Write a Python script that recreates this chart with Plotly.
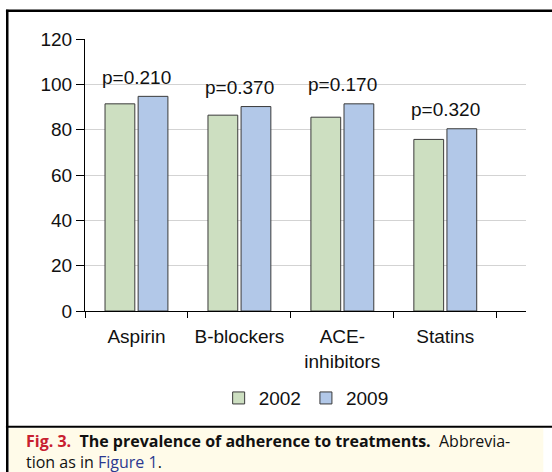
import plotly.graph_objects as go

# ── Data ──────────────────────────────────────────────────────────────────────
CATEGORIES = ["Aspirin", "B-blockers", "ACE-<br>inhibitors", "Statins"]
YEAR_2002 = [91.4, 86.4, 85.5, 75.7]
YEAR_2009 = [94.7, 90.2, 91.4, 80.4]
P_VALUES = ["p=0.210", "p=0.370", "p=0.170", "p=0.320"]

# ── Style ─────────────────────────────────────────────────────────────────────
GREEN = "#CDDFC1"
BLUE = "#B2C8E8"
OUTLINE = "#3A3A3A"
GRID = "#D3D3D3"
FONT = "Liberation Sans, Arial, sans-serif"
CAPTION_FONT = "Open Sans, sans-serif"

W, H = 552, 472
PLOT_L, PLOT_R = 85, 525.7   # plot area, pixels
PLOT_T, PLOT_B = 39.3, 311


def px(x):
    return (x - PLOT_L) / (PLOT_R - PLOT_L)


def py(y):
    return (PLOT_B - y) / (PLOT_B - PLOT_T)


fig = go.Figure()
fig.add_trace(go.Bar(x=CATEGORIES, y=YEAR_2002, name="2002",
                     marker=dict(color=GREEN, line=dict(color=OUTLINE, width=1))))
fig.add_trace(go.Bar(x=CATEGORIES, y=YEAR_2009, name="2009",
                     marker=dict(color=BLUE, line=dict(color=OUTLINE, width=1))))

# p-value labels sit a fixed distance above the taller bar of each group
for cat, a, b, p in zip(CATEGORIES, YEAR_2002, YEAR_2009, P_VALUES):
    fig.add_annotation(x=cat, y=max(a, b) + 8.4, text=p, showarrow=False,
                       xanchor="center", yanchor="middle",
                       font=dict(size=19, color="#111", family=FONT))

# ── Frame and caption ─────────────────────────────────────────────────────────
frame = dict(type="line", xref="paper", yref="paper", layer="above")
fig.add_shape(x0=px(543), x1=px(9), y0=py(428), y1=py(472), type="rect",
              xref="paper", yref="paper", fillcolor="#FFFBE9", line_width=0,
              layer="below")
fig.add_shape(**frame, x0=px(6), x1=px(552), y0=py(11), y1=py(11),
              line=dict(color="black", width=2.5))
fig.add_shape(**frame, x0=px(7.3), x1=px(7.3), y0=py(10), y1=py(472),
              line=dict(color="black", width=2.5))
fig.add_shape(**frame, x0=px(6), x1=px(552), y0=py(426.5), y1=py(426.5),
              line=dict(color="black", width=2))

line1 = ("<span style='color:#C8202F'><b>Fig. 3.</b></span>\u00a0 "
         "<b>The prevalence of adherence to treatments.</b>\u00a0 Abbrevia-")
line2 = "tion as in <span style='color:#2B3990'>Figure 1</span>."
fig.add_annotation(x=px(24.5), y=py(440.5), xref="paper", yref="paper",
                   text=line1, showarrow=False, xanchor="left", yanchor="middle",
                   font=dict(size=16, color="#111", family=CAPTION_FONT))
fig.add_annotation(x=px(24.5), y=py(462), xref="paper", yref="paper",
                   text=line2, showarrow=False, xanchor="left", yanchor="middle",
                   font=dict(size=16, color="#111", family=CAPTION_FONT))

fig.update_layout(
    width=W, height=H,
    margin=dict(l=PLOT_L, r=W - PLOT_R, t=PLOT_T, b=H - PLOT_B),
    paper_bgcolor="white", plot_bgcolor="white",
    font=dict(family=FONT, size=19, color="#111"),
    barmode="group", bargap=0.357, bargroupgap=0.1,
    showlegend=True,
    legend=dict(orientation="h", x=px(306), y=py(398), xanchor="center",
                yanchor="middle", font=dict(size=19), bgcolor="rgba(0,0,0,0)"),
    xaxis=dict(type="category", range=[-0.5, 3.784], showline=True,
               linecolor="black", linewidth=1, ticks="outside",
               tickson="boundaries", ticklen=6, tickcolor="black",
               ticklabelstandoff=8, showgrid=False, tickfont=dict(size=19)),
    yaxis=dict(range=[0, 120], dtick=20, showline=True, linecolor="black",
               linewidth=1, ticks="outside", ticklen=8, tickcolor="black",
               gridcolor=GRID, zeroline=False, tickfont=dict(size=19)),
)

# the page's default body margin would shift the whole figure by 8px
fig.write_html("out.html", config={"displayModeBar": False},
               post_script="document.body.style.margin='0';")
